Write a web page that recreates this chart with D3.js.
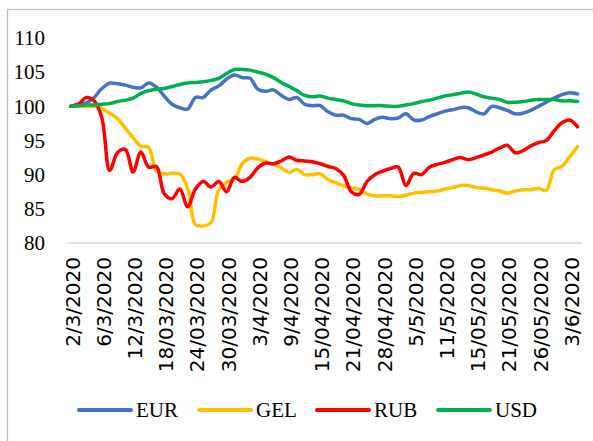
<!DOCTYPE html>
<html>
<head>
<meta charset="utf-8">
<script src="https://cdn.jsdelivr.net/npm/d3@7"></script>
<style>
  body { margin: 0; background: #fff; }
  svg { display: block; }
</style>
</head>
<body>
<svg id="canvas" width="593" height="441"></svg>
<script>
// labels shown under the axis, one every 4 trading days
let tickLabels = ['2/3/2020', '6/3/2020', '12/3/2020', '18/03/2020', '24/03/2020', '30/03/2020',
    '3/4/2020', '9/4/2020', '15/04/2020', '21/04/2020', '28/04/2020', '5/5/2020', '11/5/2020',
    '15/05/2020', '21/05/2020', '26/05/2020', '3/6/2020']
let tickEvery = 4

let yTicks = [80, 85, 90, 95, 100, 105, 110]

let eur = [100.0, 100.3, 100.5, 101.3, 102.6, 103.4, 103.3, 103.1, 102.8, 102.7, 103.4, 102.8, 101.5, 100.3,
    99.8, 99.6, 101.3, 101.3, 102.4, 103.0, 104.0, 104.6, 104.2, 104.1, 102.5, 102.2, 102.4, 101.6, 101.0,
    101.3, 100.3, 100.1, 100.1, 99.2, 98.7, 98.7, 98.2, 98.1, 97.5, 98.1, 98.4, 98.2, 98.3, 98.9, 98.0, 98.0,
    98.5, 98.9, 99.3, 99.5, 99.8, 99.8, 99.2, 98.9, 100.0, 99.8, 99.4, 98.9, 99.0, 99.4, 100.0, 100.6, 101.2,
    101.7, 102.0, 101.8]
let gel = [100.0, 100.0, 100.0, 100.0, 99.7, 99.0, 98.2, 96.8, 95.4, 94.2, 94.0, 90.5, 90.1, 90.2, 90.1, 88.0,
    82.7, 82.5, 83.0, 87.8, 88.9, 89.4, 91.6, 92.4, 92.3, 91.9, 91.5, 91.0, 90.3, 90.8, 90.0, 90.0, 90.1, 89.3,
    88.8, 88.4, 88.1, 87.8, 87.2, 86.9, 86.9, 86.9, 86.8, 87.0, 87.3, 87.4, 87.5, 87.6, 87.9, 88.1, 88.4, 88.4,
    88.1, 88.0, 87.8, 87.6, 87.3, 87.6, 87.8, 87.8, 88.0, 87.7, 90.7, 91.2, 92.6, 94.1]
let rub = [100.0, 100.3, 101.3, 100.8, 98.3, 90.6, 93.2, 93.7, 90.4, 93.3, 91.1, 91.2, 87.2, 86.5, 87.9, 85.3,
    87.9, 89.0, 88.2, 89.0, 87.5, 89.6, 89.0, 89.6, 91.0, 91.7, 91.6, 92.0, 92.6, 92.1, 92.0, 91.9, 91.6, 91.2,
    90.9, 89.9, 87.5, 87.1, 89.0, 90.0, 90.5, 90.9, 91.1, 88.4, 90.2, 90.0, 91.1, 91.5, 91.8, 92.2, 92.5, 92.2,
    92.5, 92.9, 93.3, 93.9, 94.3, 93.2, 93.5, 94.2, 94.7, 95.0, 96.4, 97.6, 98.0, 97.0]
let usd = [100.0, 100.1, 100.2, 100.2, 100.3, 100.4, 100.7, 100.9, 101.2, 101.9, 102.3, 102.5, 102.6, 102.9,
    103.2, 103.4, 103.5, 103.6, 103.8, 104.1, 104.8, 105.4, 105.4, 105.3, 105.0, 104.7, 104.2, 103.5, 102.9,
    102.3, 101.6, 101.4, 101.5, 101.2, 101.0, 100.8, 100.4, 100.2, 100.1, 100.1, 100.1, 100.0, 100.0, 100.2,
    100.4, 100.7, 100.9, 101.2, 101.5, 101.7, 101.9, 102.1, 101.8, 101.4, 101.2, 101.0, 100.6, 100.6, 100.7,
    100.9, 101.0, 101.0, 101.0, 100.8, 100.8, 100.7]

let series = [
    { name: 'EUR', values: eur, color: '#4472C4' },
    { name: 'GEL', values: gel, color: '#FFC000' },
    { name: 'RUB', values: rub, color: '#FF0000' },
    { name: 'USD', values: usd, color: '#00B050' }
]

let canvas = d3.select('#canvas')

// outer chart frame (runs off the right and bottom of the picture)
canvas.append('rect')
    .attr('x', 7.5)
    .attr('y', 9.5)
    .attr('width', 620)
    .attr('height', 460)
    .attr('fill', 'none')
    .attr('stroke', '#bfbfbf')
    .attr('stroke-width', 1.2)

let xScale = d3.scalePoint()
    .domain(d3.range(eur.length))
    .range([70.7, 577.5])

let yScale = d3.scaleLinear()
    .domain([80, 110])
    .range([243, 38])

// y axis: labels only
let yAxis = d3.axisLeft(yScale)
    .tickValues(yTicks)
    .tickSize(0)
    .tickPadding(0)

canvas.append('g')
    .attr('transform', 'translate(45,0)')
    .call(yAxis)
    .call(g => g.select('.domain').remove())
    .selectAll('text')
    .attr('font-family', '"Liberation Serif", serif')
    .attr('font-size', 21)
    .attr('fill', '#000')

// x axis line and rotated date labels
let xAxis = d3.axisBottom(xScale)
    .tickValues(xScale.domain().filter(i => i % tickEvery === 0))
    .tickFormat(i => tickLabels[i / tickEvery])
    .tickSize(0)

let xAxisG = canvas.append('g')
    .attr('transform', 'translate(0,243)')
    .call(xAxis)

xAxisG.select('.domain')
    .attr('d', 'M' + (67 - 0) + ',0H582')
    .attr('stroke', '#d9d9d9')
    .attr('stroke-width', 1.5)

xAxisG.selectAll('text')
    .attr('font-family', '"DejaVu Sans", sans-serif')
    .attr('font-size', 20)
    .attr('fill', '#000')
    .attr('text-anchor', 'end')
    .attr('transform', 'rotate(-90)')
    .attr('x', -14)
    .attr('y', 1.5)
    .attr('dy', '0.35em')

let line = d3.line()
    .x((d, i) => xScale(i))
    .y(d => yScale(d))
    .curve(d3.curveCatmullRom)

canvas.selectAll('path.series')
    .data(series)
    .enter()
    .append('path')
    .attr('class', 'series')
    .attr('d', s => line(s.values))
    .attr('fill', 'none')
    .attr('stroke', s => s.color)
    .attr('stroke-width', 3.5)
    .attr('stroke-linejoin', 'round')
    .attr('stroke-linecap', 'round')

// legend
let legendX = [79, 199, 317, 438]

let legend = canvas.selectAll('g.legend')
    .data(series)
    .enter()
    .append('g')
    .attr('class', 'legend')
    .attr('transform', (s, i) => 'translate(' + legendX[i] + ',410)')

legend.append('line')
    .attr('x1', 0)
    .attr('x2', 52)
    .attr('stroke', s => s.color)
    .attr('stroke-width', 4)
    .attr('stroke-linecap', 'round')

legend.append('text')
    .attr('x', 57)
    .attr('dy', '0.35em')
    .attr('font-family', '"Liberation Serif", serif')
    .attr('font-size', 21)
    .attr('fill', '#000')
    .text(s => s.name)
</script>
</body>
</html>
